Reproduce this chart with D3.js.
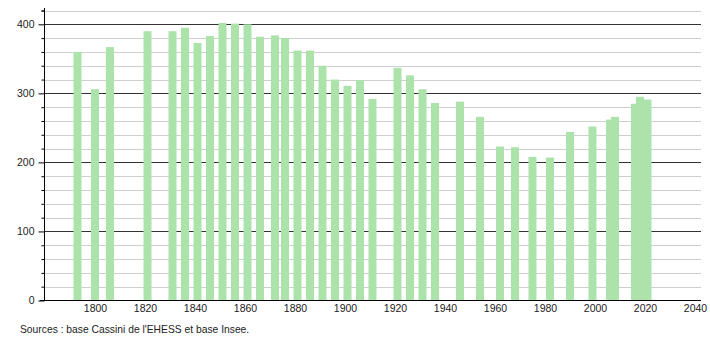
<!DOCTYPE html>
<html>
<head>
<meta charset="utf-8">
<script src="https://cdn.jsdelivr.net/npm/d3@7"></script>
<style>
  body { margin: 0; background: #fff; }
  text { font-family: "Liberation Sans", Arial, sans-serif; font-size: 10px; fill: #222; }
</style>
</head>
<body>
<div id="chart"></div>
<script>
// census years and population
var years = [1793, 1800, 1806, 1821, 1831, 1836, 1841, 1846, 1851, 1856, 1861, 1866, 1872, 1876,
  1881, 1886, 1891, 1896, 1901, 1906, 1911, 1921, 1926, 1931, 1936, 1946, 1954, 1962, 1968,
  1975, 1982, 1990, 1999, 2006, 2008, 2016, 2018, 2021];
var population = [360, 306, 367, 390, 390, 395, 373, 383, 402, 401, 400, 382, 384, 380,
  362, 362, 340, 320, 311, 319, 292, 337, 326, 306, 286, 288, 266, 223, 222,
  208, 207, 244, 252, 262, 266, 285, 295, 291];
var xTicks = [1800, 1820, 1840, 1860, 1880, 1900, 1920, 1940, 1960, 1980, 2000, 2020, 2040];
var yMajor = [0, 100, 200, 300, 400];
var yMinor = d3.range(20, 421, 20).filter(function(v) { return v % 100 !== 0; });
var source = "Sources : base Cassini de l'EHESS et base Insee.";

var width = 710, height = 340;

var svg = d3.select("#chart").append("svg")
  .attr("width", width)
  .attr("height", height);

var x = d3.scaleLinear().domain([1780, 2042]).range([45, 700]);
var y = d3.scaleLinear().domain([0, 420]).range([300.5, 10.5]);

// grid lines, minor grey then major dark
svg.append("g").selectAll("line")
  .data(yMinor)
  .enter().append("line")
  .attr("x1", 44).attr("x2", 701)
  .attr("y1", function(d) { return Math.round(y(d)) + 0.5; })
  .attr("y2", function(d) { return Math.round(y(d)) + 0.5; })
  .attr("stroke", "#cfcfcf");

svg.append("g").selectAll("line")
  .data(yMajor.slice(1))
  .enter().append("line")
  .attr("x1", 44).attr("x2", 701)
  .attr("y1", function(d) { return Math.round(y(d)) + 0.5; })
  .attr("y2", function(d) { return Math.round(y(d)) + 0.5; })
  .attr("stroke", "#333");

// bars
var data = years.map(function(yr, i) { return { year: yr, value: population[i] }; });
svg.append("g").selectAll("rect")
  .data(data)
  .enter().append("rect")
  .attr("x", function(d) { return x(d.year) - 4; })
  .attr("width", 8)
  .attr("y", function(d) { return y(d.value); })
  .attr("height", function(d) { return y(0) - y(d.value); })
  .attr("fill", "#abe3ab");

// y axis
var yAxis = d3.axisLeft(y)
  .tickValues(yMinor.concat(yMajor).concat([420]))
  .tickSize(3)
  .tickFormat(function(d) { return yMajor.indexOf(d) >= 0 ? d : ""; });
var gy = svg.append("g").attr("transform", "translate(44.5,0)").call(yAxis);
gy.select(".domain").remove();
gy.selectAll(".tick line").attr("stroke", "#000");
gy.selectAll(".tick").filter(function(d) { return yMajor.indexOf(d) >= 0; })
  .select("line").attr("x2", -6);
gy.selectAll(".tick text").attr("x", -10).style("font-size", "10.5px").attr("fill", "#222");
svg.append("line")
  .attr("x1", 44.5).attr("x2", 44.5)
  .attr("y1", 8).attr("y2", 300.5)
  .attr("stroke", "#000");

// x axis
var xAxis = d3.axisBottom(x).tickValues(xTicks).tickSize(0).tickFormat(d3.format("d"));
var gx = svg.append("g").attr("transform", "translate(0,300.5)").call(xAxis);
gx.select(".domain").remove();
gx.selectAll(".tick text").attr("y", 4).style("font-size", "10.5px").attr("fill", "#222");
svg.append("line")
  .attr("x1", 40).attr("x2", 701)
  .attr("y1", 300.5).attr("y2", 300.5)
  .attr("stroke", "#000");

svg.append("text")
  .attr("x", 20)
  .attr("y", 333)
  .style("font-size", "10.3px")
  .text(source);
</script>
</body>
</html>
